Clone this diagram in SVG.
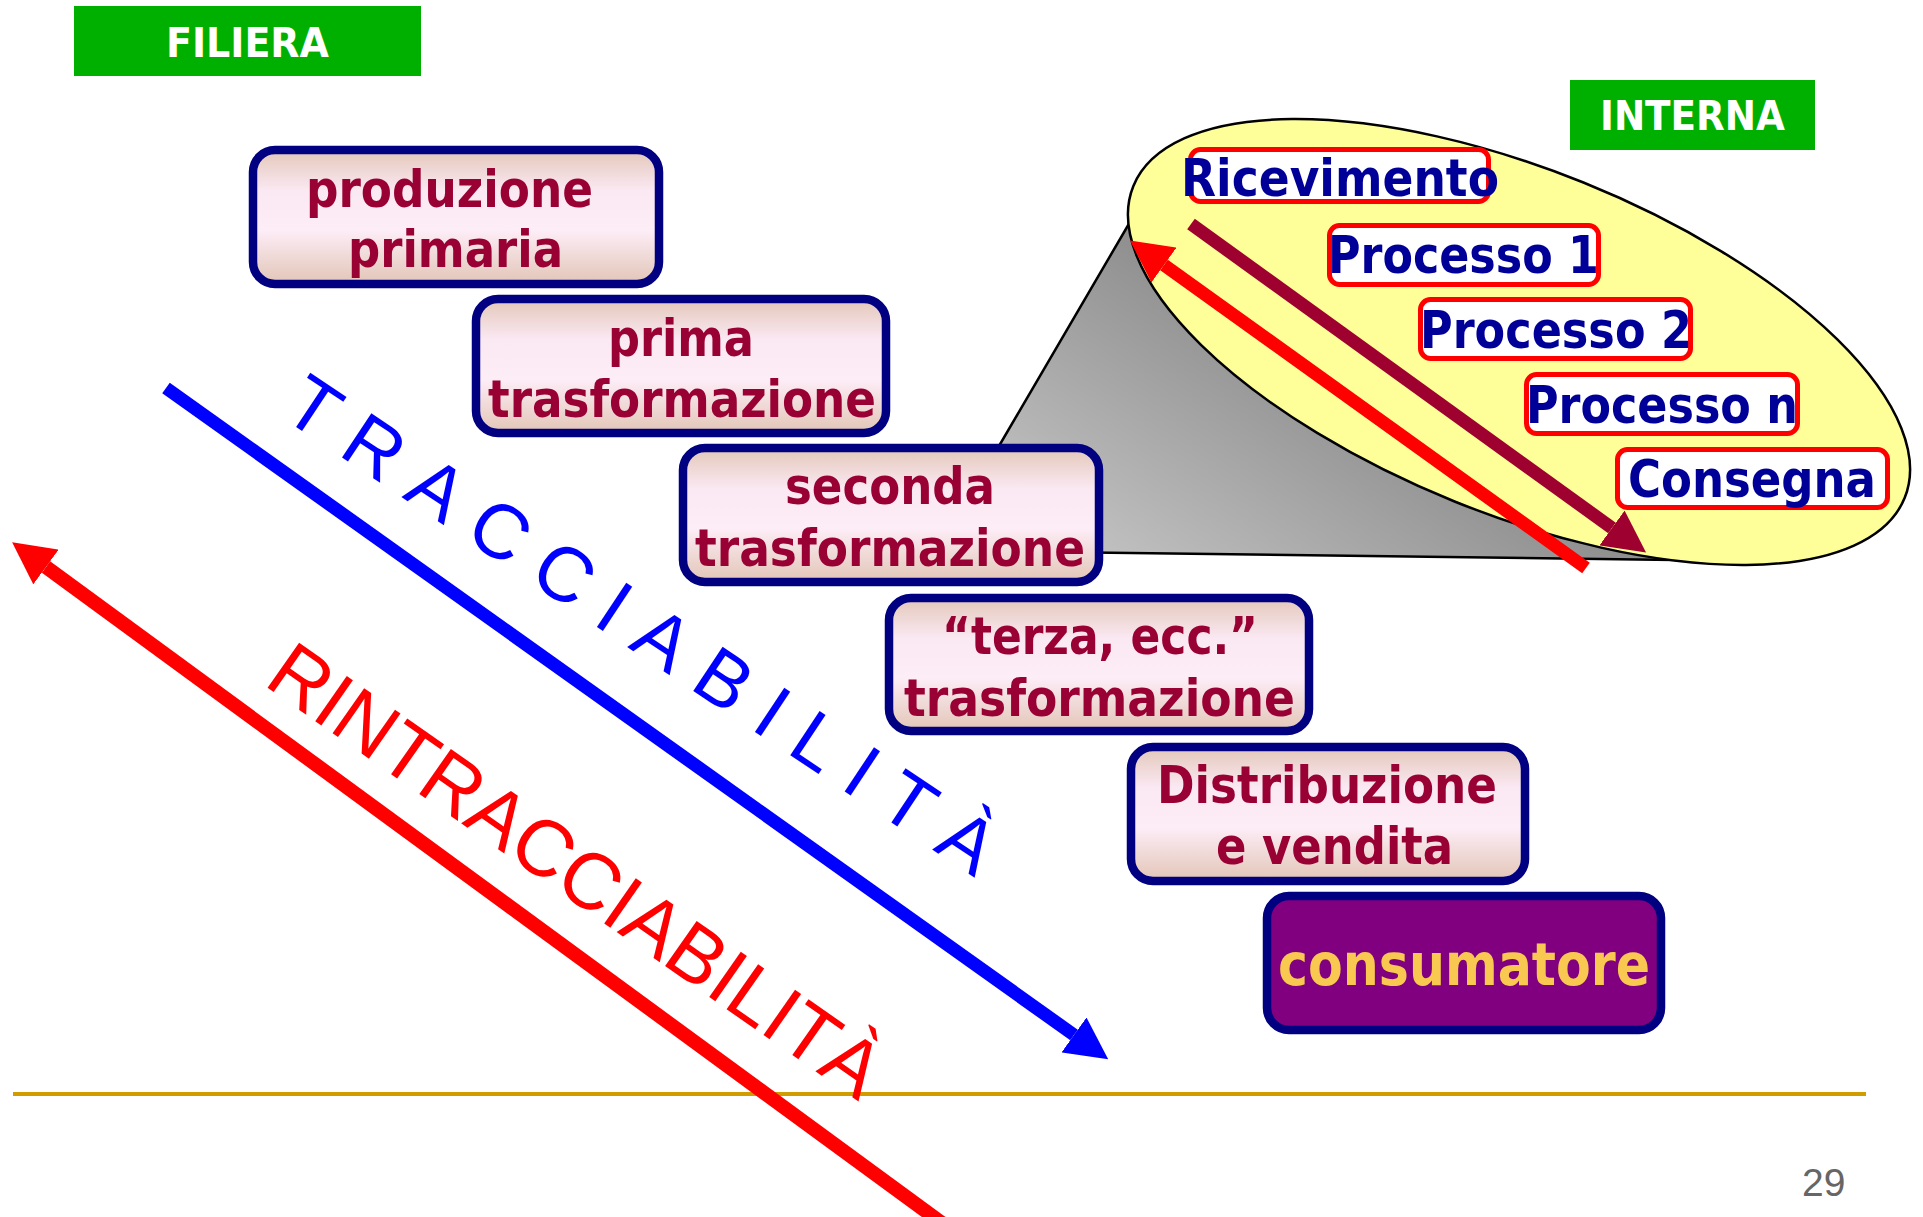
<svg xmlns="http://www.w3.org/2000/svg" width="1923" height="1217" viewBox="0 0 1923 1217">
  <style>
    .tag { fill: #00B000; }
    .tagtxt { font-family: "DejaVu Sans Condensed", "DejaVu Sans", sans-serif; font-weight: bold; font-size: 41px; fill: #FFFFFF; }
    .step { fill: url(#boxGrad); stroke: #000080; stroke-width: 8.5; }
    .steptxt { font-family: "DejaVu Sans Condensed", "DejaVu Sans", sans-serif; font-weight: bold; font-size: 51px; fill: #990033; }
    .cons { fill: #800080; stroke: #000080; stroke-width: 8.5; }
    .constxt { font-family: "DejaVu Sans Condensed", "DejaVu Sans", sans-serif; font-weight: bold; font-size: 58px; fill: #F8C850; }
    .proc { fill: #FFFFFF; stroke: #FF0000; stroke-width: 5; }
    .proctxt { font-family: "DejaVu Sans Condensed", "DejaVu Sans", sans-serif; font-weight: bold; font-size: 51px; fill: #000099; }
    .rot { font-family: "Liberation Sans", Arial, sans-serif; }
  </style>
  <defs>
    <linearGradient id="boxGrad" x1="0" y1="0" x2="0" y2="1">
      <stop offset="0" stop-color="#E3C7B9"/>
      <stop offset="0.3" stop-color="#FAE8F2"/>
      <stop offset="0.6" stop-color="#FDEDF7"/>
      <stop offset="1" stop-color="#E2C5B6"/>
    </linearGradient>
    <linearGradient id="coneGrad" gradientUnits="userSpaceOnUse" x1="1050" y1="560" x2="1250" y2="250">
      <stop offset="0" stop-color="#C6C6C6"/>
      <stop offset="1" stop-color="#868686"/>
    </linearGradient>
    <marker id="headBlue" markerUnits="userSpaceOnUse" markerWidth="42" markerHeight="43" refX="0" refY="21.5" orient="auto" viewBox="0 0 42 43">
      <path d="M0,0 L42,21.5 L0,43 Z" fill="#0000FF"/>
    </marker>
    <marker id="headRed" markerUnits="userSpaceOnUse" markerWidth="42" markerHeight="43" refX="0" refY="21.5" orient="auto" viewBox="0 0 42 43">
      <path d="M0,0 L42,21.5 L0,43 Z" fill="#FF0000"/>
    </marker>
    <marker id="headDark" markerUnits="userSpaceOnUse" markerWidth="42" markerHeight="43" refX="0" refY="21.5" orient="auto" viewBox="0 0 42 43">
      <path d="M0,0 L42,21.5 L0,43 Z" fill="#9E0030"/>
    </marker>
  </defs>

  <rect width="1923" height="1217" fill="#FFFFFF"/>

  <!-- baseline rule and page number -->
  <line x1="13" y1="1094" x2="1866" y2="1094" stroke="#D09C00" stroke-width="4"/>
  <text x="1802" y="1196" font-family="'Liberation Sans', Arial, sans-serif" font-size="39" fill="#666666">29</text>

  <!-- tags -->
  <g id="tag-filiera">
    <rect class="tag" x="74" y="6" width="347" height="70"/>
    <text class="tagtxt" x="166" y="57" textLength="163" lengthAdjust="spacingAndGlyphs">FILIERA</text>
  </g>
  <g id="tag-interna">
    <rect class="tag" x="1570" y="80" width="245" height="70"/>
    <text class="tagtxt" x="1600" y="130" textLength="185" lengthAdjust="spacingAndGlyphs">INTERNA</text>
  </g>

  <!-- internal process zoom (cone + ellipse) -->
  <g id="cone">
    <polygon points="985,470 1130,222 1750,561 1050,552" fill="url(#coneGrad)" stroke="#000000" stroke-width="2.5" stroke-linejoin="round"/>
  </g>
  <g id="interna-ellipse">
    <ellipse cx="1519" cy="342" rx="416" ry="172" transform="rotate(22 1519 342)" fill="#FFFF99" stroke="#000000" stroke-width="2.5"/>
  </g>

  <!-- supply chain steps -->
  <g id="node-produzione">
    <rect class="step" x="253" y="150" width="406" height="134" rx="22"/>
    <text class="steptxt" x="306" y="207" textLength="287" lengthAdjust="spacingAndGlyphs">produzione</text>
    <text class="steptxt" x="348" y="267" textLength="215" lengthAdjust="spacingAndGlyphs">primaria</text>
  </g>
  <g id="node-prima">
    <rect class="step" x="476" y="299" width="410" height="134" rx="22"/>
    <text class="steptxt" x="608" y="356" textLength="146" lengthAdjust="spacingAndGlyphs">prima</text>
    <text class="steptxt" x="488" y="417" textLength="388" lengthAdjust="spacingAndGlyphs">trasformazione</text>
  </g>
  <g id="node-seconda">
    <rect class="step" x="683" y="448" width="416" height="134" rx="22"/>
    <text class="steptxt" x="785" y="504" textLength="210" lengthAdjust="spacingAndGlyphs">seconda</text>
    <text class="steptxt" x="695" y="566" textLength="390" lengthAdjust="spacingAndGlyphs">trasformazione</text>
  </g>
  <g id="node-terza">
    <rect class="step" x="889" y="598" width="420" height="133" rx="22"/>
    <text class="steptxt" x="942" y="654" textLength="316" lengthAdjust="spacingAndGlyphs">“terza, ecc.”</text>
    <text class="steptxt" x="904" y="716" textLength="391" lengthAdjust="spacingAndGlyphs">trasformazione</text>
  </g>
  <g id="node-distribuzione">
    <rect class="step" x="1131" y="747" width="394" height="134" rx="22"/>
    <text class="steptxt" x="1157" y="803" textLength="340" lengthAdjust="spacingAndGlyphs">Distribuzione</text>
    <text class="steptxt" x="1216" y="864" textLength="237" lengthAdjust="spacingAndGlyphs">e vendita</text>
  </g>
  <g id="node-consumatore">
    <rect class="cons" x="1267" y="896" width="394" height="134" rx="22"/>
    <text class="constxt" x="1278" y="985" textLength="372" lengthAdjust="spacingAndGlyphs">consumatore</text>
  </g>

  <!-- connectors -->
  <g id="connectors" fill="none" stroke-linecap="butt">
    <line id="arrow-tracciabilita" x1="166" y1="388" x2="1074" y2="1035" stroke="#0000FF" stroke-width="13" marker-end="url(#headBlue)"/>
    <line id="arrow-rintracciabilita" x1="946" y1="1226" x2="46" y2="567" stroke="#FF0000" stroke-width="14" marker-end="url(#headRed)"/>
    <line id="arrow-interna-down" x1="1191" y1="224" x2="1612" y2="528" stroke="#9E0030" stroke-width="13" marker-end="url(#headDark)"/>
    <line id="arrow-interna-up" x1="1586" y1="568" x2="1164" y2="265" stroke="#FF0000" stroke-width="13" marker-end="url(#headRed)"/>
  </g>

  <!-- internal process steps -->
  <g id="proc-ricevimento">
    <rect class="proc" x="1190.5" y="149.5" width="298" height="52" rx="10"/>
    <text class="proctxt" x="1181" y="196" textLength="318" lengthAdjust="spacingAndGlyphs">Ricevimento</text>
  </g>
  <g id="proc-1">
    <rect class="proc" x="1329.5" y="225.5" width="269" height="59" rx="10"/>
    <text class="proctxt" x="1328" y="273" textLength="271" lengthAdjust="spacingAndGlyphs">Processo 1</text>
  </g>
  <g id="proc-2">
    <rect class="proc" x="1420.5" y="299.5" width="270" height="59" rx="10"/>
    <text class="proctxt" x="1420" y="348" textLength="272" lengthAdjust="spacingAndGlyphs">Processo 2</text>
  </g>
  <g id="proc-n">
    <rect class="proc" x="1526.5" y="374.5" width="271" height="59" rx="10"/>
    <text class="proctxt" x="1526" y="423" textLength="272" lengthAdjust="spacingAndGlyphs">Processo n</text>
  </g>
  <g id="proc-consegna">
    <rect class="proc" x="1617.5" y="449.5" width="270" height="58" rx="10"/>
    <text class="proctxt" x="1628" y="497" textLength="248" lengthAdjust="spacingAndGlyphs">Consegna</text>
  </g>

  <!-- arrow labels -->
  <g id="label-tracciabilita">
    <text class="rot" transform="translate(279.4 416) rotate(33.6)" font-size="77" letter-spacing="21.8" fill="#0000FF">TRACCIABILITÀ</text>
  </g>
  <g id="label-rintracciabilita">
    <text class="rot" transform="translate(262.3 684) rotate(35)" font-size="80" fill="#FF0000" textLength="728" lengthAdjust="spacingAndGlyphs">RINTRACCIABILITÀ</text>
  </g>
</svg>
